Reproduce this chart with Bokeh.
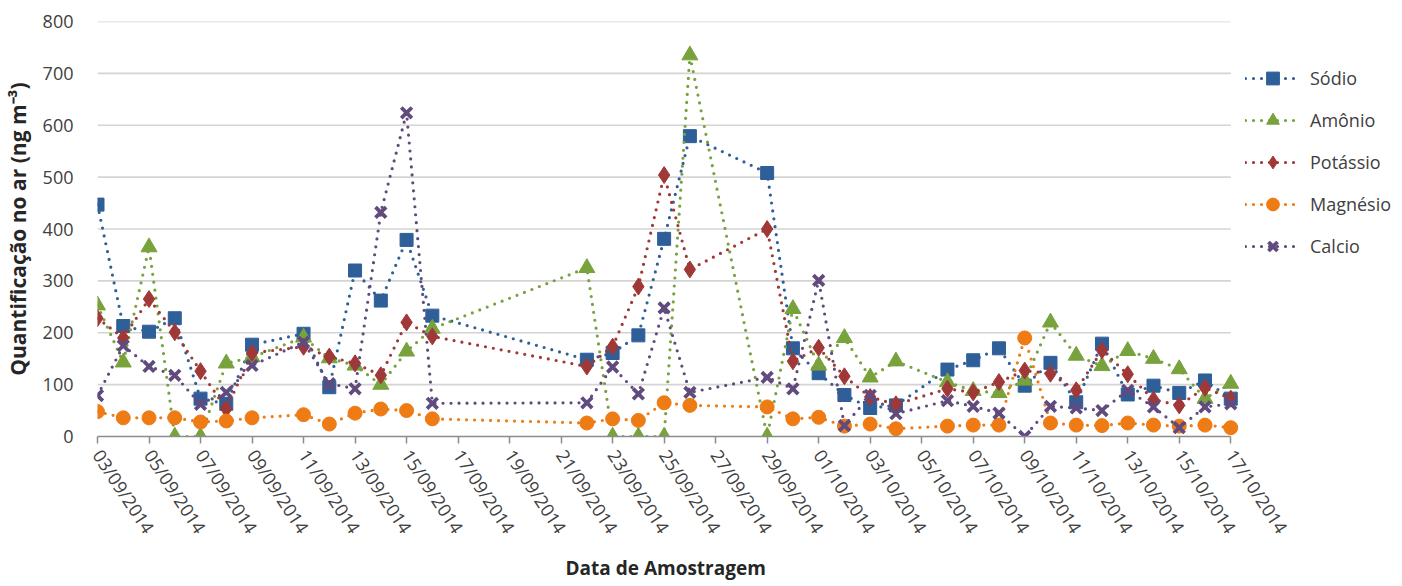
from datetime import datetime, timedelta
from bokeh.plotting import figure
from bokeh.models import (Range1d, SingleIntervalTicker, DaysTicker, DatetimeTickFormatter,
                          Legend, LegendItem, ColumnDataSource, Title)
from bokeh.embed import file_html
from bokeh.resources import INLINE

dates = ["2014-09-03", "2014-09-04", "2014-09-05", "2014-09-06", "2014-09-07", "2014-09-08", "2014-09-09",
         "2014-09-11", "2014-09-12", "2014-09-13", "2014-09-14", "2014-09-15", "2014-09-16",
         "2014-09-22", "2014-09-23", "2014-09-24", "2014-09-25", "2014-09-26",
         "2014-09-29", "2014-09-30", "2014-10-01", "2014-10-02", "2014-10-03", "2014-10-04",
         "2014-10-06", "2014-10-07", "2014-10-08", "2014-10-09", "2014-10-10", "2014-10-11",
         "2014-10-12", "2014-10-13", "2014-10-14", "2014-10-15", "2014-10-16", "2014-10-17"]

sodio = [447, 213, 202, 228, 73, 63, 177,
         198, 95, 320, 262, 379, 233,
         148, 161, 195, 381, 579,
         508, 170, 122, 80, 55, 60,
         129, 147, 170, 98, 142, 66, 179, 81, 98, 84, 108, 73]
amonio = [253, 143, 365, 0, 0, 141, 153,
          191, 151, 137, 100, 164, 208,
          325, 0, 0, 0, 735,
          0, 246, 137, 190, 114, 145,
          105, 88, 84, 108, 220, 156, 136, 165, 150, 130, 73, 102]
potassio = [228, 190, 265, 201, 126, 53, 161,
            173, 154, 141, 118, 220, 193,
            135, 173, 289, 504, 322,
            400, 145, 171, 116, 76, 62,
            92, 85, 105, 127, 121, 89, 166, 120, 71, 60, 94, 73]
magnesio = [48, 36, 36, 36, 28, 30, 36,
            42, 24, 45, 53, 50, 34,
            26, 34, 31, 65, 60,
            57, 34, 37, 20, 24, 15,
            20, 22, 22, 190, 26, 22, 21, 26, 22, 20, 22, 17]
calcio = [79, 175, 135, 118, 62, 85, 137,
          182, 102, 92, 432, 624, 64,
          65, 134, 82, 248, 85,
          114, 92, 301, 21, 79, 44,
          69, 58, 45, 0, 58, 55, 50, 89, 57, 17, 57, 63]

series_names = ["Sódio", "Amônio", "Potássio", "Magnésio", "Calcio"]
series_values = [sodio, amonio, potassio, magnesio, calcio]
colors = ["#2f5f99", "#78a23c", "#a03838", "#ee7b14", "#604a7e"]
markers = ["square", "triangle", "diamond", "circle", "x"]
sizes = [13, 16, 17, 14, 15]
y_ticks = [100, 200, 300, 400, 500, 600, 700, 800]

x = [datetime.strptime(d, "%Y-%m-%d") for d in dates]
x_start = datetime(2014, 9, 3)
x_end = datetime(2014, 10, 17)

FONT = "Open Sans"

# plot area: left 95 px, data area 1135 px wide (03/09 .. 17/10), legend area to the right
W, LEFT, DATA_W = 1400, 95, 1135
extra_days = (W - LEFT - DATA_W) / DATA_W * (x_end - x_start).days
view_end = x_end + timedelta(days=extra_days)

p = figure(width=W, height=586, output_backend="svg", toolbar_location=None,
           x_axis_type="datetime",
           x_range=Range1d(x_start, view_end),
           y_range=Range1d(0, 800),
           min_border_left=LEFT, min_border_right=0, min_border_top=21, min_border_bottom=150)
p.outline_line_color = None
p.background_fill_color = "white"
p.border_fill_color = "white"

p.xgrid.grid_line_color = None
p.ygrid.grid_line_color = None
grid_src = ColumnDataSource(dict(x0=[x_start] * len(y_ticks), x1=[x_end] * len(y_ticks),
                                 y=y_ticks))
p.segment("x0", "y", "x1", "y", source=grid_src, line_color="#d4d4d4", line_width=1.6,
          level="underlay")

p.yaxis.ticker = SingleIntervalTicker(interval=100, num_minor_ticks=0)
p.yaxis.axis_line_color = None
p.yaxis.major_tick_line_color = None
p.yaxis.minor_tick_line_color = None
p.yaxis.major_label_text_font = FONT
p.yaxis.major_label_text_font_size = "18px"
p.yaxis.major_label_text_color = "#404040"
p.yaxis.major_label_standoff = 18
p.yaxis.axis_label = "Quantificação no ar (ng m⁻³)"
p.yaxis.axis_label_text_font = FONT
p.yaxis.axis_label_text_font_style = "bold"
p.yaxis.axis_label_text_font_size = "21px"
p.yaxis.axis_label_text_color = "#262626"
p.yaxis.axis_label_standoff = 8

p.xaxis.bounds = (x_start, x_end)
p.xaxis.ticker = DaysTicker(days=list(range(1, 32, 2)), num_minor_ticks=2)
p.xaxis.formatter = DatetimeTickFormatter(days="%d/%m/%Y", months="%d/%m/%Y")
p.xaxis.axis_line_color = "#8c8c8c"
p.xaxis.axis_line_width = 1.5
p.xaxis.major_tick_line_color = "#8c8c8c"
p.xaxis.minor_tick_line_color = "#8c8c8c"
p.xaxis.major_tick_line_width = 1.5
p.xaxis.minor_tick_line_width = 1.5
p.xaxis.major_tick_in = 0
p.xaxis.major_tick_out = 7
p.xaxis.minor_tick_in = 0
p.xaxis.minor_tick_out = 7
p.xaxis.major_label_orientation = -0.99
p.xaxis.major_label_text_font = FONT
p.xaxis.major_label_text_font_size = "18px"
p.xaxis.major_label_text_color = "#404040"
p.xaxis.major_label_standoff = 8

x_title = Title(text="Data de Amostragem", align="left", offset=468,
                text_font=FONT, text_font_style="bold", text_font_size="19px",
                text_color="#262626", standoff=10)
p.add_layout(x_title, "below")

items = []
for name, vals, c, m, s in zip(series_names, series_values, colors, markers, sizes):
    src = ColumnDataSource(dict(x=x, y=vals))
    ln = p.line("x", "y", source=src, line_color=c, line_width=3.2,
                line_dash="0 8", line_cap="round")
    if m == "x":
        sc = p.scatter("x", "y", source=src, marker=m, size=s, line_color=c, line_width=3.8)
    else:
        sc = p.scatter("x", "y", source=src, marker=m, size=s, fill_color=c, line_color=c, line_width=1)
    items.append(LegendItem(label=name, renderers=[ln, sc]))

legend = Legend(items=items, location=(1148, 174))
legend.border_line_color = None
legend.background_fill_alpha = 0
legend.padding = 0
legend.margin = 0
legend.spacing = 10
legend.glyph_width = 55
legend.glyph_height = 32
legend.label_height = 32
legend.label_standoff = 10
legend.label_text_font = FONT
legend.label_text_font_size = "18px"
legend.label_text_color = "#404040"
p.add_layout(legend, "center")

open("out.html", "w").write(file_html(p, INLINE))
